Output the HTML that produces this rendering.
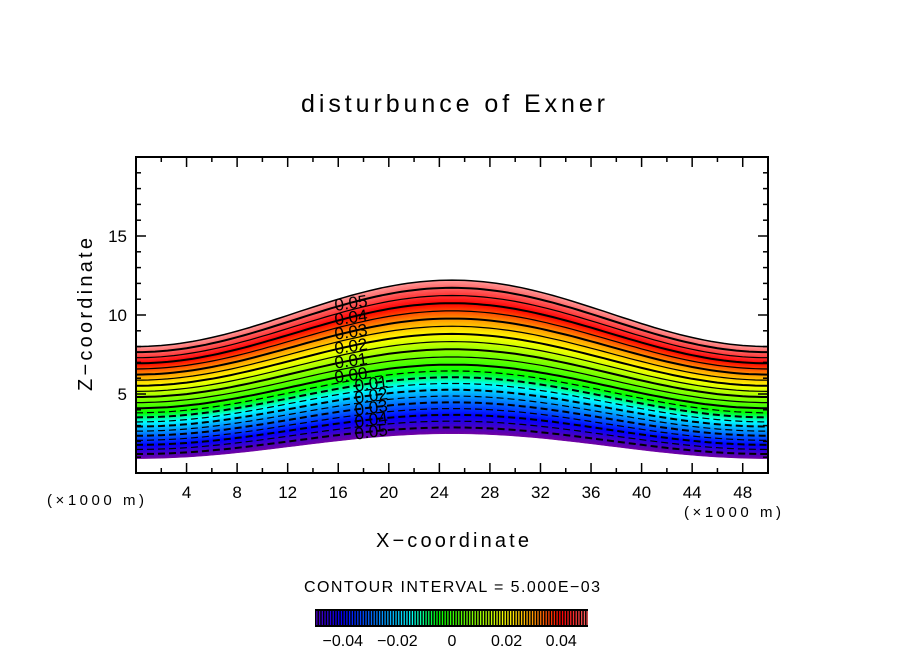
<!DOCTYPE html>
<html><head><meta charset="utf-8"><style>
body{margin:0;background:#fff;}
svg text{font-family:"Liberation Sans",sans-serif;fill:#000;}
</style></head><body>
<svg id="chart" width="904" height="654" xmlns="http://www.w3.org/2000/svg">
<rect width="904" height="654" fill="#fff"/>
<text x="301" y="112" font-size="25" textLength="304" lengthAdjust="spacing">disturbunce of Exner</text>
<g id="plot"></g>
<g id="axes"></g>
<text x="376" y="547" font-size="20" textLength="153" lengthAdjust="spacing">X−coordinate</text>
<text transform="translate(92,391) rotate(-90)" font-size="20" textLength="153" lengthAdjust="spacing">Z−coordinate</text>
<text x="47" y="505" font-size="15" textLength="97" lengthAdjust="spacing">(×1000 m)</text>
<text x="684" y="517" font-size="15" textLength="97" lengthAdjust="spacing">(×1000 m)</text>
<text x="304" y="592" font-size="16" textLength="296" lengthAdjust="spacing">CONTOUR INTERVAL = 5.000E−03</text>
<g id="cbar"></g>
</svg>
<script>
const levels=[-0.05,-0.045,-0.04,-0.035,-0.03,-0.025,-0.02,-0.015,-0.01,-0.005,0,0.005,0.01,0.015,0.02,0.025,0.03,0.035,0.04,0.045,0.05];
const labelLevels=[0.05,0.04,0.03,0.02,0.01,0,-0.01,-0.02,-0.03,-0.04,-0.05];
const xTicks=[4,8,12,16,20,24,28,32,36,40,44,48];
const yTicks=[5,10,15];
const cbarTicks=[-0.04,-0.02,0,0.02,0.04];
const vMin=-0.055, vMax=0.055;
const NS='http://www.w3.org/2000/svg';
const X0=136,X1=768,Y0=473,Y1=157;
const sx=x=>X0+x/50*(X1-X0);
const sy=z=>Y0-z/20*(Y0-Y1);
const sv=v=>452+v/0.01*27.3;
function z0(v){return 4.1+v*(v>0?71:58);}
function zAt(v,x){const h=(1+Math.cos(2*Math.PI*(x-25)/50))/2;const b=z0(v);return b+h*(1.24+0.37*b);}
const stops=[[-0.055,[112,0,160]],[-0.04,[0,0,255]],[-0.025,[0,150,255]],[-0.015,[0,255,255]],[-0.005,[0,255,0]],[0.01,[150,255,0]],[0.02,[255,255,0]],[0.03,[255,150,0]],[0.04,[255,0,0]],[0.055,[255,150,150]]];
function col(v){for(let i=0;i<stops.length-1;i++){const[a,ca]=stops[i],[b,cb]=stops[i+1];if(v<=b){const t=Math.max(0,(v-a)/(b-a));return 'rgb('+ca.map((c,k)=>Math.round(c+(cb[k]-c)*t)).join(',')+')';}}return 'rgb(255,150,150)';}
function el(tag,attrs,parent){const e=document.createElementNS(NS,tag);for(const k in attrs)e.setAttribute(k,attrs[k]);parent.appendChild(e);return e;}
const plot=document.getElementById('plot');
const xs=[];for(let i=0;i<=100;i++)xs.push(i*0.5);
function pathFor(v){return xs.map(x=>sx(x).toFixed(1)+','+sy(zAt(v,x)).toFixed(1));}
const N=110;
for(let i=0;i<N;i++){
 const a=vMin+(vMax-vMin)*i/N,b=vMin+(vMax-vMin)*(i+1)/N;
 const pts=pathFor(a).concat(pathFor(b).reverse());
 const p=el('polygon',{points:pts.join(' '),fill:col((a+b)/2),stroke:col((a+b)/2),'stroke-width':0.5},plot);
 
 
}
levels.forEach(v=>{
 const p=el('polyline',{points:pathFor(v).join(' '),fill:'none',stroke:'#000','stroke-width':(Math.abs(Math.round(v*1000))%10===0)?2:1.2},plot);
 if(v<0)p.setAttribute('stroke-dasharray','7,4');
 
 
});
const topEdge=el('polyline',{points:pathFor(vMax).join(' '),fill:'none',stroke:'#000','stroke-width':1.5},plot);


labelLevels.forEach(v=>{
 const x=v>=0?17:18.6;const t=el('text',{x:sx(x),y:sy(zAt(v,x))+6,'font-size':17,'text-anchor':'middle',transform:'rotate(-8 '+sx(x)+' '+sy(zAt(v,x))+')'},plot);
 t.textContent=v===0?'0.00':v.toFixed(2).replace('-','');
 
 
});
const ax=document.getElementById('axes');
const fr=el('rect',{x:X0,y:Y1,width:X1-X0,height:Y0-Y1,fill:'none',stroke:'#000','stroke-width':2},ax);


for(let x=2;x<50;x+=2){const L=(x%4===0)?10:5;el('line',{x1:sx(x),x2:sx(x),y1:Y0,y2:Y0-L,stroke:'#000','stroke-width':1.5},ax);el('line',{x1:sx(x),x2:sx(x),y1:Y1,y2:Y1+L,stroke:'#000','stroke-width':1.5},ax);}
for(let z=1;z<20;z++){const L=(z%5===0)?10:5;el('line',{x1:X0,x2:X0+L,y1:sy(z),y2:sy(z),stroke:'#000','stroke-width':1.5},ax);el('line',{x1:X1,x2:X1-L,y1:sy(z),y2:sy(z),stroke:'#000','stroke-width':1.5},ax);}
xTicks.forEach(x=>{const t=el('text',{x:sx(x),y:498,'font-size':17,'text-anchor':'middle'},ax);t.textContent=x;});
yTicks.forEach(z=>{const t=el('text',{x:127,y:sy(z)+6,'font-size':17,'text-anchor':'end'},ax);t.textContent=z;});
const cb=document.getElementById('cbar');
const bg=el('rect',{x:315,y:609,width:273,height:18,fill:'#000'},cb);


for(let v=-0.0495;v<0.05;v+=0.001){const x=sv(v);const l=el('line',{x1:x,x2:x,y1:611,y2:625,stroke:col(v),'stroke-width':1.3},cb);}
cbarTicks.forEach(v=>{const t=el('text',{x:sv(v),y:646,'font-size':16,'text-anchor':'middle'},cb);t.textContent=v===0?'0':v.toFixed(2).replace('-','−');});
</script>
</body></html>
